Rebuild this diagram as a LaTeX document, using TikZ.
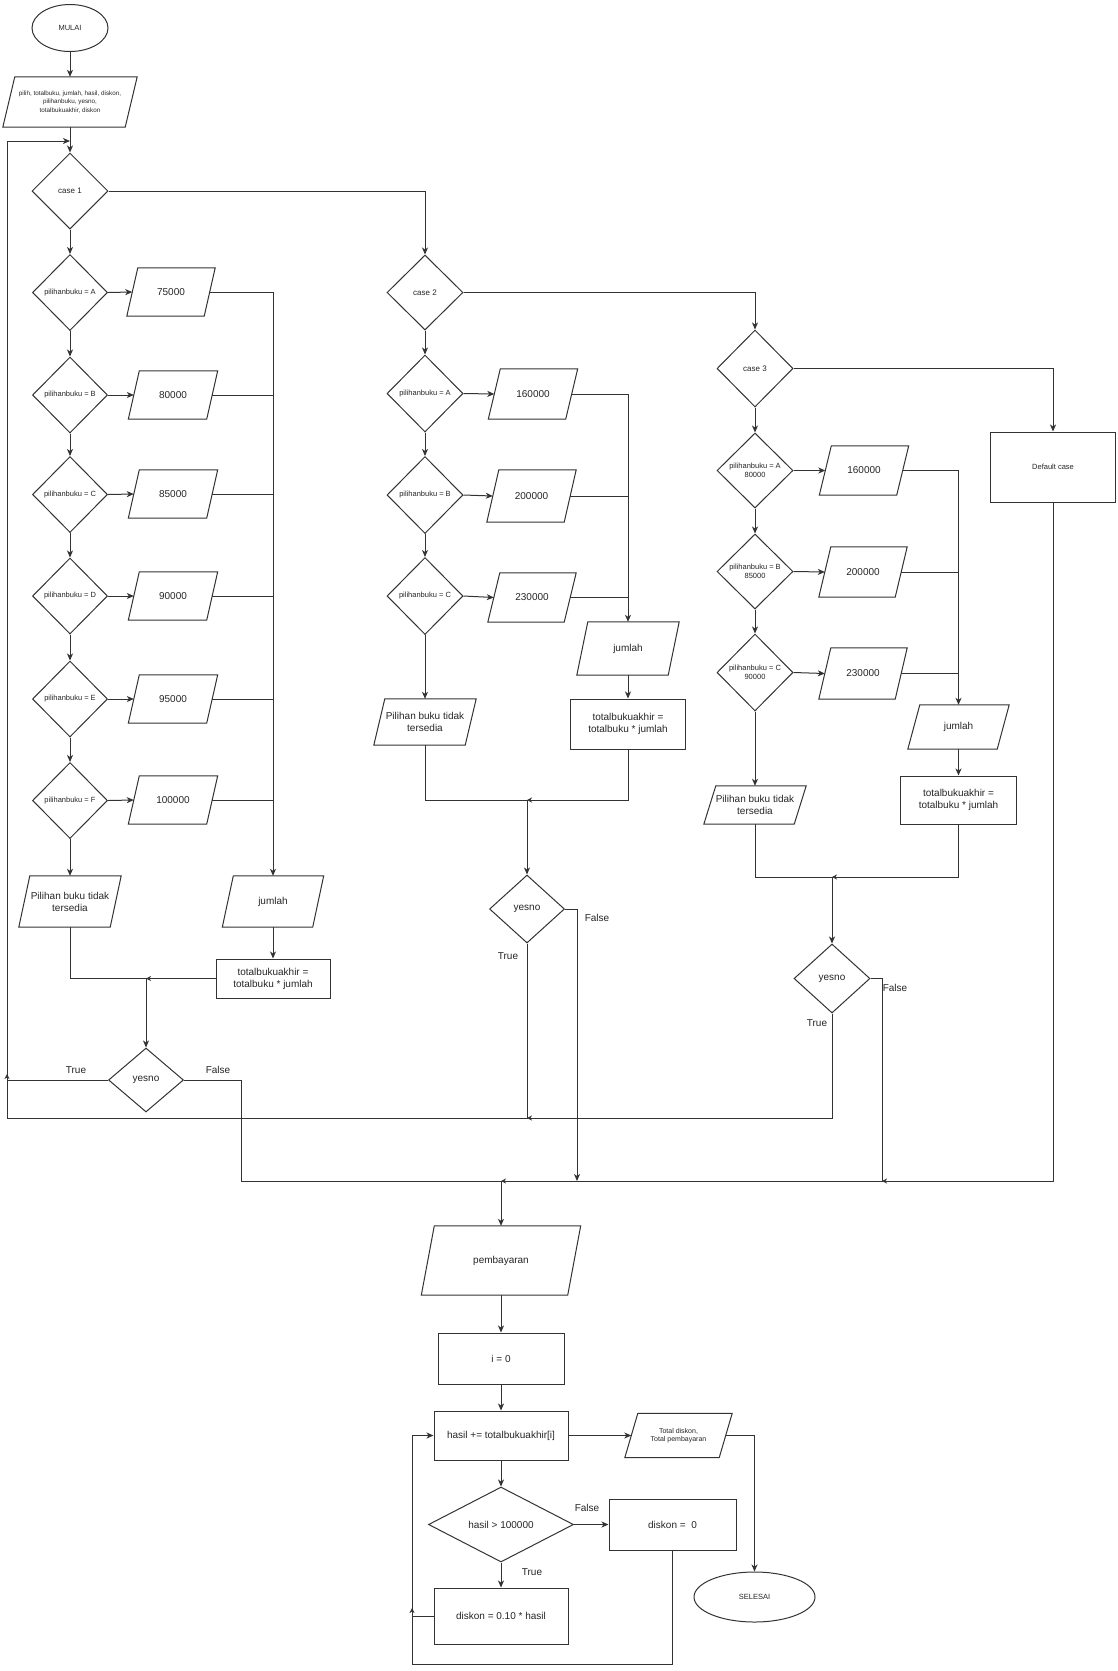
\documentclass[tikz,border=0pt]{standalone}
\usepackage{fontspec}
\setmainfont{Liberation Sans}
\usetikzlibrary{shapes.geometric,arrows.meta}
\begin{document}
\begin{tikzpicture}[x=1pt,y=-1pt,
  ln/.style={draw=black!80,line width=1pt},
  arr/.style={ln,-{Stealth[length=7pt,width=6pt,inset=2pt]}},
  sarr/.style={ln,-{Stealth[length=5pt,width=5pt,inset=1.5pt]}},
  sz/.style n args={2}{minimum width=#1pt,minimum height=#2pt},
  shp/.style={draw=black!80,line width=1pt,text=black!85,align=center,inner sep=1pt},
  tm/.style={font=\fontsize{10}{12}\selectfont},
  tc/.style={font=\fontsize{8}{10}\selectfont},
  ts/.style={font=\fontsize{7.5}{9}\selectfont},
  tt/.style={font=\fontsize{6.3}{8.3}\selectfont},
  dia/.style={shp,diamond,inner sep=0pt},
  box/.style={shp,rectangle},
  para/.style={rectangle,text=black!85,align=center,inner sep=1pt,
    append after command={\pgfextra{\draw[draw=black!80,line width=1pt,line join=miter]
      ([xshift=-#1pt]\tikzlastnode.south west) -- ([xshift=#1pt]\tikzlastnode.north west)
      -- ([xshift=#1pt]\tikzlastnode.north east) -- ([xshift=-#1pt]\tikzlastnode.south east) -- cycle;}}},
  para/.default=5.5,
  oval/.style={shp,ellipse},
  lbl/.style={text=black!85,inner sep=0pt,tm}
]
\fill[white] (0,0) rectangle (1117,1671);
\useasboundingbox (0,0) rectangle (1117,1671);

% ---------- top ----------
\node[oval,ts,sz={76}{47}] (start) at (70,28) {MULAI};
\node[para=6,tt,sz={122}{50}] (inp) at (70,102)
  {pilih, totalbuku, jumlah, hasil, diskon,\\pilihanbuku, yesno,\\totalbukuakhir, diskon};
\node[dia,tc,sz={76}{76}] (c1) at (70,191) {case 1};

% ---------- column 1 ----------
\node[dia,ts,sz={75}{76}] (a1) at (70,292.5) {pilihanbuku = A};
\node[dia,ts,sz={75}{76}] (b1) at (70,395) {pilihanbuku = B};
\node[dia,ts,sz={75}{76}] (cc1) at (70,494.5) {pilihanbuku = C};
\node[dia,ts,sz={75}{76}] (d1x) at (70,596) {pilihanbuku = D};
\node[dia,ts,sz={75}{76}] (e1) at (70,699) {pilihanbuku = E};
\node[dia,ts,sz={75}{76}] (f1) at (70,800.5) {pilihanbuku = F};

\node[para,tm,sz={77}{48}] (va1) at (171,292) {75000};
\node[para,tm,sz={78}{48}] (vb1) at (173,395) {80000};
\node[para,tm,sz={78}{48}] (vc1) at (173,494) {85000};
\node[para,tm,sz={78}{48}] (vd1) at (173,596) {90000};
\node[para,tm,sz={78}{48}] (ve1) at (173,699) {95000};
\node[para,tm,sz={78}{48}] (vf1) at (173,800) {100000};

\node[para,tm,sz={91}{51}] (n1) at (70,901.5) {Pilihan buku tidak\\tersedia};
\node[para,tm,sz={90}{51}] (j1) at (273,901.5) {jumlah};
\node[box,tm,sz={114}{39}] (t1) at (273,978.5) {totalbukuakhir =\\totalbuku * jumlah};
\node[dia,tm,sz={75}{64}] (yn1) at (146,1080) {yesno};
\node[lbl] (lt1) at (76,1070) {True};
\node[lbl] (lf1) at (218,1070) {False};

% ---------- column 2 ----------
\node[dia,tc,sz={76}{75}] (c2) at (425,292.5) {case 2};
\node[dia,ts,sz={76}{77}] (a2) at (425,393.5) {pilihanbuku = A};
\node[dia,ts,sz={76}{77}] (b2) at (425,495) {pilihanbuku = B};
\node[dia,ts,sz={76}{77}] (cc2) at (425,596) {pilihanbuku = C};
\node[para=6,tm,sz={77}{50}] (va2) at (533,394) {160000};
\node[para=6,tm,sz={77}{52}] (vb2) at (531.5,496) {200000};
\node[para=6,tm,sz={76}{49}] (vc2) at (532,597.5) {230000};
\node[para,tm,sz={91}{53}] (j2) at (628,648.5) {jumlah};
\node[box,tm,sz={115}{50}] (t2) at (628,724) {totalbukuakhir =\\totalbuku * jumlah};
\node[para,tm,sz={91}{46}] (n2) at (425,722) {Pilihan buku tidak\\tersedia};
\node[dia,tm,sz={75}{68}] (yn2) at (527,909) {yesno};
\node[lbl] (lt2) at (508,956) {True};
\node[lbl] (lf2) at (597,918) {False};

% ---------- column 3 ----------
\node[dia,tc,sz={76}{77}] (c3) at (755,368.5) {case 3};
\node[box,ts,sz={125}{70}] (def) at (1053,467) {Default case};
\node[dia,ts,sz={76}{75}] (a3) at (755,470.5) {pilihanbuku = A\\80000};
\node[dia,ts,sz={76}{75}] (b3) at (755,571.5) {pilihanbuku = B\\85000};
\node[dia,ts,sz={76}{77}] (cc3) at (755,672.5) {pilihanbuku = C\\90000};
\node[para=6,tm,sz={77}{49}] (va3) at (864,470.5) {160000};
\node[para=6,tm,sz={76}{50}] (vb3) at (863,572) {200000};
\node[para=6,tm,sz={76}{51}] (vc3) at (863,673.5) {230000};
\node[para=6,tm,sz={89}{44}] (j3) at (958.5,727) {jumlah};
\node[box,tm,sz={116}{48}] (t3) at (958.5,800) {totalbukuakhir =\\totalbuku * jumlah};
\node[para=6,tm,sz={90}{38}] (n3) at (755,805) {Pilihan buku tidak\\tersedia};
\node[dia,tm,sz={76}{69}] (yn3) at (832,978.5) {yesno};
\node[lbl] (lt3) at (817,1023) {True};
\node[lbl] (lf3) at (895,988) {False};

% ---------- bottom ----------
\node[para=6.5,tm,sz={146}{69}] (pemb) at (501,1260.5) {pembayaran};
\node[box,tm,sz={126}{51}] (i0) at (501,1358.5) {i = 0};
\node[box,tm,sz={134}{49}] (hs) at (501,1435.5) {hasil += totalbukuakhir[i]};
\node[para=6.5,font=\fontsize{7}{8.6}\selectfont,sz={94}{44}] (tot) at (678.5,1435.5) {Total diskon,\\Total pembayaran};
\node[oval,ts,sz={121}{50}] (sel) at (754.5,1597) {SELESAI};
\node[dia,tm,sz={145}{75}] (dec) at (501,1524.5) {hasil > 100000};
\node[box,tm,sz={127}{51}] (d0) at (672.5,1524.5) {diskon =\ \ 0};
\node[box,tm,sz={134}{56}] (dd) at (501,1616) {diskon = 0.10 * hasil};
\node[lbl] (lf4) at (587,1508) {False};
\node[lbl] (lt4) at (532,1572) {True};

% ---------- coordinates ----------
\coordinate (L1) at (7,1118);
\coordinate (L2) at (7,141);
\coordinate (T1) at (7,1074);
\coordinate (m1) at (146,978.5);
\coordinate (m2) at (527,800);
\coordinate (m3) at (832,877);
\coordinate (B0) at (241,1181);
\coordinate (B2) at (577,1181);
\coordinate (B3) at (882,1181);
\coordinate (R1) at (412,1664);
\coordinate (R2) at (412,1608);

% ---------- connectors: top + column 1 ----------
\draw[arr] (start.south) -- (inp.north);
\draw[arr] (inp.south) -- (c1.north);
\draw[arr] (c1.south) -- (a1.north);
\draw[arr] (a1.south) -- (b1.north);
\draw[arr] (b1.south) -- (cc1.north);
\draw[arr] (cc1.south) -- (d1x.north);
\draw[arr] (d1x.south) -- (e1.north);
\draw[arr] (e1.south) -- (f1.north);
\draw[arr] (f1.south) -- (n1.north);
\draw[arr] (a1.east) -- (va1.west);
\draw[arr] (b1.east) -- (vb1.west);
\draw[arr] (cc1.east) -- (vc1.west);
\draw[arr] (d1x.east) -- (vd1.west);
\draw[arr] (e1.east) -- (ve1.west);
\draw[arr] (f1.east) -- (vf1.west);
\draw[arr] (va1.east) -| (j1.north);
\draw[ln] (vb1.east) -- (vb1.east -| j1.north);
\draw[ln] (vc1.east) -- (vc1.east -| j1.north);
\draw[ln] (vd1.east) -- (vd1.east -| j1.north);
\draw[ln] (ve1.east) -- (ve1.east -| j1.north);
\draw[ln] (vf1.east) -- (vf1.east -| j1.north);
\draw[arr] (j1.south) -- (t1.north);
\draw[arr] (n1.south) |- (m1) -- (yn1.north);
\draw[sarr] (t1.west) -- (m1);
\draw[sarr] (yn1.west) -| (T1);
\draw[arr] (yn1.east) -| (B0) -| (pemb.north);

% ---------- column 2 ----------
\draw[arr] (c1.east) -| (c2.north);
\draw[arr] (c2.south) -- (a2.north);
\draw[arr] (a2.south) -- (b2.north);
\draw[arr] (b2.south) -- (cc2.north);
\draw[arr] (cc2.south) -- (n2.north);
\draw[arr] (a2.east) -- (va2.west);
\draw[arr] (b2.east) -- (vb2.west);
\draw[arr] (cc2.east) -- (vc2.west);
\draw[arr] (va2.east) -| (j2.north);
\draw[ln] (vb2.east) -- (vb2.east -| j2.north);
\draw[ln] (vc2.east) -- (vc2.east -| j2.north);
\draw[arr] (j2.south) -- (t2.north);
\draw[arr] (n2.south) |- (m2) -- (yn2.north);
\draw[sarr] (t2.south) |- (m2);
\draw[arr] (yn2.east) -| (B2);
\draw[arr] (yn2.south) |- (L1) -- (L2) -- (inp.south |- L2);

% ---------- column 3 ----------
\draw[arr] (c2.east) -| (c3.north);
\draw[arr] (c3.east) -| (def.north);
\draw[arr] (c3.south) -- (a3.north);
\draw[arr] (a3.south) -- (b3.north);
\draw[arr] (b3.south) -- (cc3.north);
\draw[arr] (cc3.south) -- (n3.north);
\draw[arr] (a3.east) -- (va3.west);
\draw[arr] (b3.east) -- (vb3.west);
\draw[arr] (cc3.east) -- (vc3.west);
\draw[arr] (va3.east) -| (j3.north);
\draw[ln] (vb3.east) -- (vb3.east -| j3.north);
\draw[ln] (vc3.east) -- (vc3.east -| j3.north);
\draw[arr] (j3.south) -- (t3.north);
\draw[arr] (n3.south) |- (m3) -- (yn3.north);
\draw[sarr] (t3.south) |- (m3);
\draw[sarr] (yn3.south) |- (yn2.south |- L1);
\draw[sarr] (yn3.east) -| (B3) -- (pemb.north |- B3);
\draw[sarr] (def.south) |- (B3);

% ---------- bottom ----------
\draw[arr] (pemb.south) -- (i0.north);
\draw[arr] (i0.south) -- (hs.north);
\draw[arr] (hs.east) -- (tot.west);
\draw[arr] (tot.east) -| (sel.north);
\draw[arr] (hs.south) -- (dec.north);
\draw[arr] (dec.east) -- (d0.west);
\draw[arr] (dec.south) -- (dd.north);
\draw[sarr] (dd.west) -| (R2);
\draw[arr] (d0.south) |- (R1) |- (hs.west);
\end{tikzpicture}
\end{document}
